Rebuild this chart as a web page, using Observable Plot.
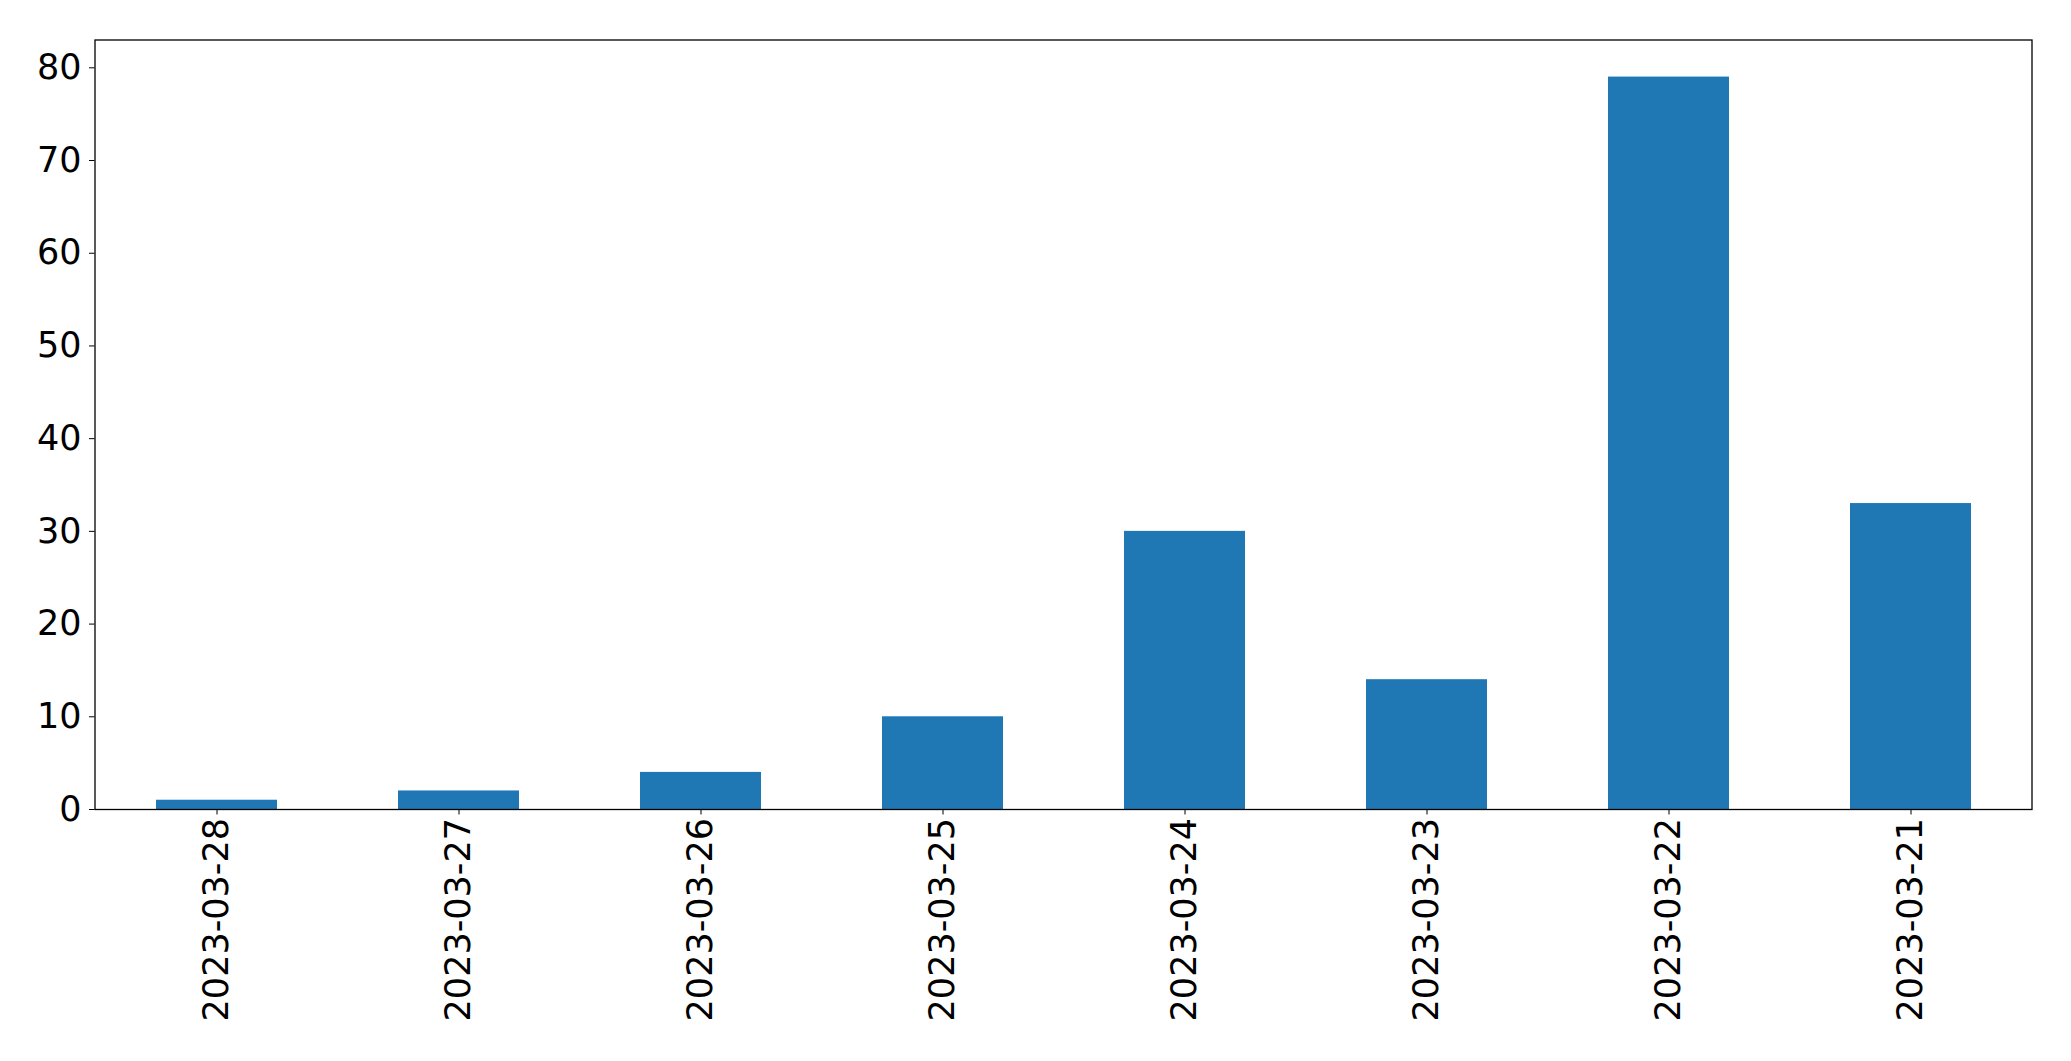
<!DOCTYPE html>
<html>
<head>
<meta charset="utf-8">
<script src="https://cdn.jsdelivr.net/npm/d3@7"></script>
<script src="https://cdn.jsdelivr.net/npm/@observablehq/plot@0.6"></script>
<style>
  html, body { margin: 0; padding: 0; background: #fff; }
  svg { display: block; }
</style>
</head>
<body>
<div id="chart"></div>
<script>
const dates = ["2023-03-28", "2023-03-27", "2023-03-26", "2023-03-25", "2023-03-24", "2023-03-23", "2023-03-22", "2023-03-21"];
const counts = [1, 2, 4, 10, 30, 14, 79, 33];
const yTicks = [0, 10, 20, 30, 40, 50, 60, 70, 80];

const data = dates.map((d, i) => ({date: d, count: counts[i]}));

const chart = Plot.plot({
  width: 2071,
  height: 1061,
  marginLeft: 94.5,
  marginRight: 39.5,
  marginTop: 39.5,
  marginBottom: 252,
  style: {fontFamily: "DejaVu Sans", fontSize: "35px", color: "black", background: "white"},
  x: {domain: dates, paddingInner: 0.5, paddingOuter: 0.25, align: 0.5, label: null},
  y: {domain: [0, 83], label: null},
  marks: [
    Plot.barY(data, {x: "date", y: "count", fill: "#1f77b4"}),
    Plot.axisY({ticks: yTicks, tickSize: 5.5, tickPadding: 8, label: null, fontSize: 35}),
    Plot.axisX({tickRotate: -90, tickSize: 5.5, tickPadding: 3, label: null, fontSize: 35}),
    Plot.frame({stroke: "black", strokeWidth: 1.3})
  ]
});
document.getElementById("chart").appendChild(chart);
</script>
</body>
</html>
